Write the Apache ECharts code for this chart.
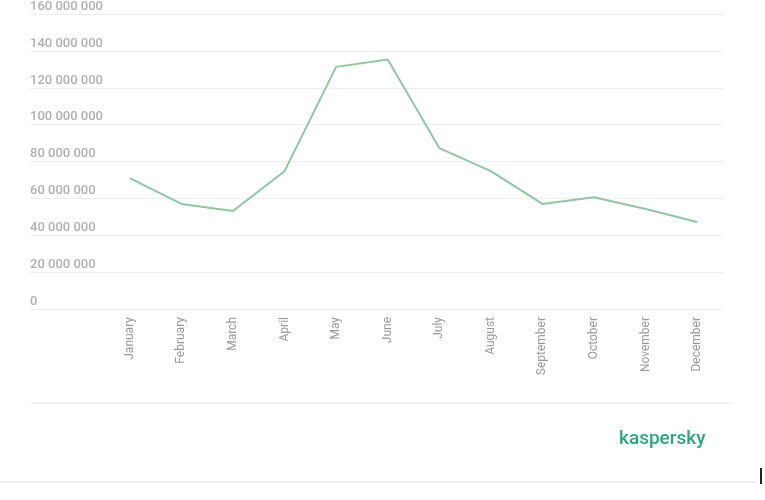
<!DOCTYPE html>
<html><head><meta charset="utf-8">
<script src="https://cdn.jsdelivr.net/npm/echarts@6/dist/echarts.min.js"></script>
<style>html,body{margin:0;padding:0;background:#fff}#c{width:765px;height:500px}</style>
</head><body><div id="c"></div>
<script>
const months = ['January','February','March','April','May','June','July','August','September','October','November','December'];
const values = [70300000,56400000,52600000,74000000,130000000,134000000,86400000,74000000,56400000,60000000,53700000,46700000];
const chart = echarts.init(document.getElementById('c'));
chart.setOption({
  animation:false,
  grid:[
    {left:30,right:42,top:11,height:298},
    {left:104,right:42,top:11,height:298}
  ],
  xAxis:[
    {gridIndex:0,type:'category',data:[''],show:false},
    {gridIndex:1,type:'category',data:months,boundaryGap:true,
     axisLine:{show:false},axisTick:{show:false},
     axisLabel:{rotate:90,color:'#999',fontFamily:'Roboto',fontSize:12,margin:8,interval:0}}
  ],
  yAxis:[
    {gridIndex:0,type:'value',min:0,max:160000000,interval:20000000,
     axisLine:{show:false},axisTick:{show:false},
     splitLine:{lineStyle:{color:'#eeeeee'}},
     axisLabel:{inside:true,verticalAlign:'bottom',margin:0,padding:[0,0,1,0],color:'#b0b0b0',fontFamily:'Roboto',fontWeight:500,fontSize:13,
       formatter:v=>String(v).replace(/\B(?=(\d{3})+(?!\d))/g,' ')}},
    {gridIndex:1,type:'value',min:0,max:160000000,show:false,splitLine:{show:false}}
  ],
  series:[{type:'line',xAxisIndex:1,yAxisIndex:1,data:values,symbol:'none',
    lineStyle:{color:'#8fc6a4',width:2}}],
  graphic:[
    {type:'line',shape:{x1:30,y1:403,x2:733,y2:403},style:{stroke:'#e6e6e6',lineWidth:1}},
    {type:'text',left:619,top:430,style:{text:'kaspersky',fill:'#2aa67f',font:'500 19px "Roboto", sans-serif'}},
    {type:'line',shape:{x1:0,y1:482,x2:755,y2:482},style:{stroke:'#eeeeee',lineWidth:2}},
    {type:'rect',shape:{x:760,y:468,width:2,height:16},style:{fill:'#222'}}
  ]
});
</script></body></html>
